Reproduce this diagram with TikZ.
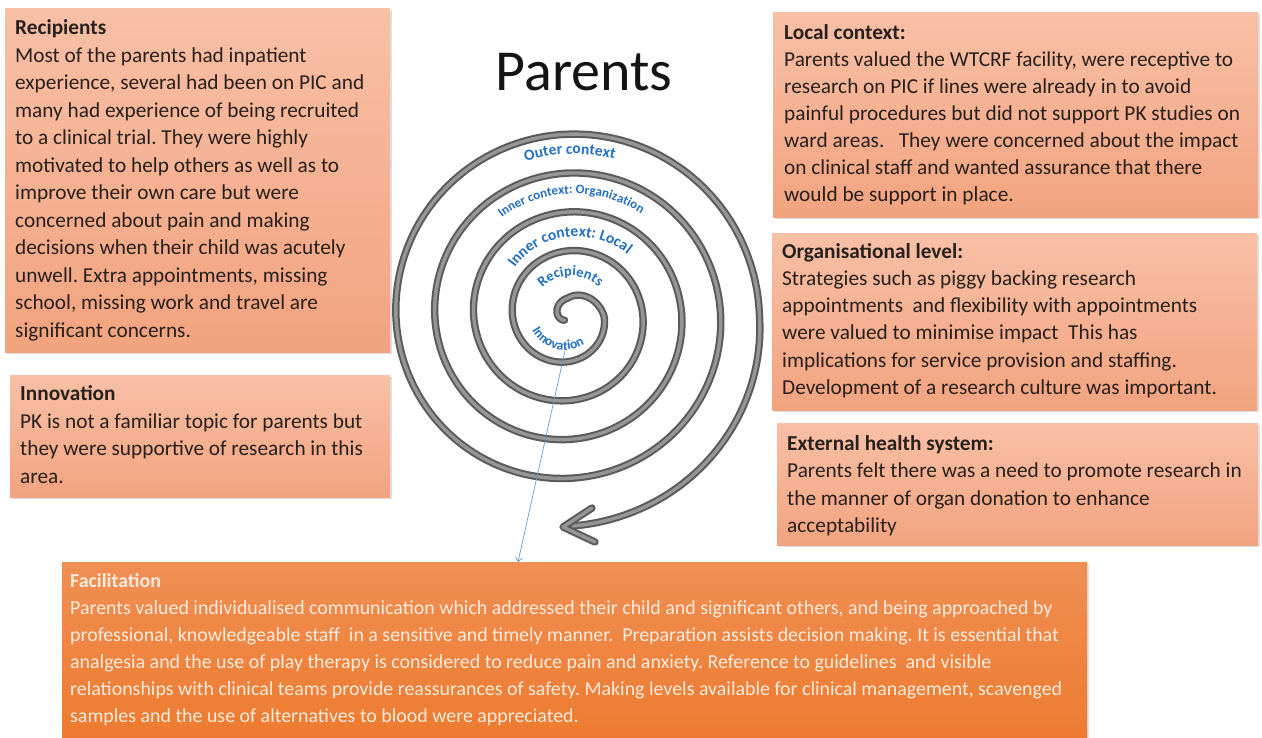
\documentclass[tikz,border=0pt]{standalone}
\usepackage{fontspec}
\setmainfont{Carlito}
\usetikzlibrary{decorations.text, arrows.meta, shadows}
\frenchspacing
\definecolor{txtdark}{RGB}{40,32,28}
\definecolor{peachtop}{RGB}{248,192,166}
\definecolor{peachbot}{RGB}{242,163,127}
\definecolor{orangetop}{RGB}{240,143,84}
\definecolor{orangebot}{RGB}{237,122,45}
\definecolor{faciltext}{RGB}{253,236,222}
\definecolor{labelblue}{RGB}{36,112,192}
\definecolor{connblue}{RGB}{100,155,210}
\definecolor{tubeedge}{RGB}{90,90,90}
\definecolor{tubemid}{RGB}{150,150,150}
\begin{document}
\begin{tikzpicture}[x=1pt, y=-1pt,
  peachbox/.style={draw=none, top color=peachtop, bottom color=peachbot, anchor=north west, inner sep=0pt,
    drop shadow={shadow xshift=1.5pt, shadow yshift=-1.5pt, opacity=0.25}},
  orangebox/.style={draw=none, top color=orangetop, bottom color=orangebot, anchor=north west, inner sep=0pt,
    drop shadow={shadow xshift=1.5pt, shadow yshift=-1.5pt, opacity=0.25}},
  boxtext/.style={align=left, anchor=north west, inner sep=0pt, text=txtdark},
  tube/.style={draw=tubeedge, line width=2pt, double=tubemid, double distance=3.4pt, line cap=round, line join=round},
  connector/.style={draw=connblue, line width=0.7pt, -{Straight Barb[length=4pt, width=7pt]}},
  spirallabel/.style={decorate}
]
\useasboundingbox (0,0) rectangle (1262,737);
\fill[white] (0,0) rectangle (1262,737);

% ---------- boxes ----------
\node[peachbox, minimum width=385pt, minimum height=344pt] (recbox) at (5,8) {};
\node[peachbox, minimum width=380pt, minimum height=122pt] (innbox) at (10,375) {};
\node[peachbox, minimum width=485pt, minimum height=205pt] (locbox) at (773,12) {};
\node[peachbox, minimum width=485pt, minimum height=177pt] (orgbox) at (772,233) {};
\node[peachbox, minimum width=481pt, minimum height=122pt] (extbox) at (777,423) {};
\node[orangebox, minimum width=1025pt, minimum height=185pt] (facil) at (62,562) {};

% ---------- box texts ----------
\node[boxtext, font=\fontsize{21.3}{27.5}\selectfont] (rectext) at (15,14.5) {\rule{0pt}{20pt}\textbf{Recipients}\\
Most of the parents had inpatient\\
experience, several had been on PIC and\\
many had experience of being recruited\\
to a clinical trial. They were highly\\
motivated to help others as well as to\\
improve their own care but were\\
concerned about pain and making\\
decisions when their child was acutely\\
unwell. Extra appointments, missing\\
school, missing work and travel are\\
significant concerns.};

\node[boxtext, font=\fontsize{21.3}{27.5}\selectfont] (inntext) at (20,380.5) {\rule{0pt}{20pt}\textbf{Innovation}\\
PK is not a familiar topic for parents but\\
they were supportive of research in this\\
area.};

\node[boxtext, font=\fontsize{21.3}{27}\selectfont] (loctext) at (784,19) {\rule{0pt}{20pt}\textbf{Local context:}\\
Parents valued the WTCRF facility, were receptive to\\
research on PIC if lines were already in to avoid\\
painful procedures but did not support PK studies on\\
ward areas.\ \ \ They were concerned about the impact\\
on clinical staff and wanted assurance that there\\
would be support in place.};

\node[boxtext, font=\fontsize{21.3}{27.2}\selectfont] (orgtext) at (782,238) {\rule{0pt}{20pt}\textbf{Organisational level:}\\
Strategies such as piggy backing research\\
appointments\ \ and flexibility with appointments\\
were valued to minimise impact\ \ This has\\
implications for service provision and staffing.\\
Development of a research culture was important.};

\node[boxtext, font=\fontsize{21.3}{27.5}\selectfont] (exttext) at (787,430) {\rule{0pt}{20pt}\textbf{External health system:}\\
Parents felt there was a need to promote research in\\
the manner of organ donation to enhance\\
acceptability};

\node[boxtext, text=faciltext, font=\fontsize{19.9}{27}\selectfont] (faciltxt) at (70,567) {\rule{0pt}{20pt}\textbf{Facilitation}\\
Parents valued individualised communication which addressed their child and significant others, and being approached by\\
professional, knowledgeable staff\ \ in a sensitive and timely manner.\ \ Preparation assists decision making. It is essential that\\
analgesia and the use of play therapy is considered to reduce pain and anxiety. Reference to guidelines\ \ and visible\\
relationships with clinical teams provide reassurances of safety. Making levels available for clinical management, scavenged\\
samples and the use of alternatives to blood were appreciated.};

% ---------- title ----------
\node[anchor=base, inner sep=0pt, font=\fontsize{58}{60}\selectfont, text=black!92] (title) at (584,90) {Parents};

% ---------- spiral ----------
\draw[tube]
  plot[domain=-230:-90, samples=30, smooth] ({568+(18+0.09*(\x+90))*cos(\x)}, {316+(18+0.09*(\x+90))*sin(\x)})
  -- plot[domain=-90:0, samples=20, smooth] ({568+(36+0.2*\x)*cos(\x)}, {316+(36+0.2*\x)*sin(\x)})
  -- plot[domain=0:1440, samples=360, smooth] ({568+(36+0.108*\x)*cos(\x)}, {316+(36+0.108*\x)*sin(\x)})
  -- plot[domain=1440:1531, samples=30, smooth] ({568+(36+0.108*\x+0.1*(\x-1440))*cos(\x)}, {316+(36+0.108*\x+0.1*(\x-1440))*sin(\x)});
\coordinate (tip) at (563,527);
\coordinate (armup) at (592,508);
\coordinate (armdown) at (595,542);
\draw[tube] (armup) -- (tip) -- (armdown);

% ---------- spiral labels ----------
\path[spirallabel, decoration={text along path, text align=center, text color=labelblue,
  text={|\bfseries\fontsize{15.5}{16}\selectfont|Outer context}}]
  plot[domain=225:315, samples=91] ({568+(162+0.108*(\x-270))*cos(\x)}, {316+(162+0.108*(\x-270))*sin(\x)});
\path[spirallabel, decoration={text along path, text align=center, text color=labelblue,
  text={|\bfseries\fontsize{13}{14}\selectfont|Inner context: Organization}}]
  plot[domain=215:325, samples=111] ({568+(122+0.108*(\x-270))*cos(\x)}, {316+(122+0.108*(\x-270))*sin(\x)});
\path[spirallabel, decoration={text along path, text align=center, text color=labelblue,
  text={|\bfseries\fontsize{15.5}{16}\selectfont|Inner context: Local}}]
  plot[domain=200:332, samples=133] ({568+(79+0.15*(\x-270))*cos(\x)}, {316+(79+0.15*(\x-270))*sin(\x)});
\path[spirallabel, decoration={text along path, text align=center, text color=labelblue,
  text={|\bfseries\fontsize{14.5}{15}\selectfont|Recipients}}]
  plot[domain=195:345, samples=76] ({568+(40+0.05*(\x-270))*cos(\x)}, {316+(40+0.05*(\x-270))*sin(\x)});
\path[spirallabel, decoration={text along path, text align=center, text color=labelblue,
  text={|\bfseries\fontsize{13.5}{14}\selectfont|Innovation}}]
  plot[domain=0:120, samples=61] ({565+38*cos(165-\x)}, {312+38*sin(165-\x)});

% ---------- connector ----------
\coordinate (innovpt) at (565,351);
\coordinate (facilpt) at (518,562);
\draw[connector] (innovpt) -- (facilpt);
\end{tikzpicture}
\end{document}
